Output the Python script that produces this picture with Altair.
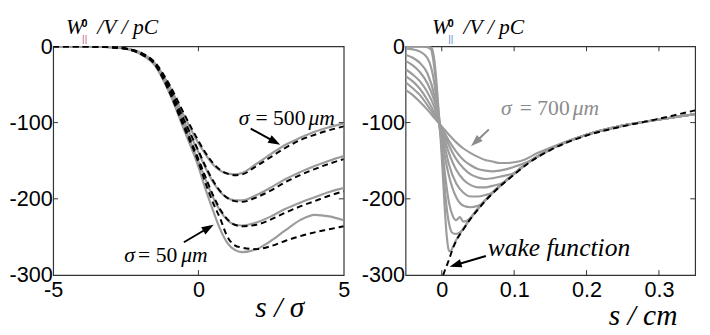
import math
import altair as alt
import pandas as pd

# ---------------- left panel (s / sigma) ----------------
L_X = [-5, -4, -3, -2.5, -2, -1.5, -1, -0.5, 0, 0.25, 0.5, 0.75, 1, 1.25, 1.5, 2, 2.5, 3, 3.5, 4, 4.5, 5]
L_D1 = [0, 0, -1, -3, -8, -21, -50, -88, -124, -140, -153, -162, -167, -169, -168, -157, -145, -133, -123, -116, -110, -105]
L_G1 = [0, 0, -1, -3, -8, -22, -52, -91, -127, -142, -155, -163, -167, -168, -166, -154, -141, -129, -120, -112, -106, -101]
L_D2 = [0, 0, -1, -3, -9, -22, -54, -96, -137, -158, -176, -190, -199, -203, -204, -198, -189, -178, -169, -161, -154, -148]
L_G2 = [0, 0, -1, -3, -9, -23, -55, -98, -139, -160, -178, -191, -199, -202, -202, -195, -185, -174, -165, -157, -150, -144]
L_D3 = [0, 0, -1, -3, -9, -23, -57, -102, -148, -172, -195, -214, -227, -234, -236, -234, -227, -218, -210, -203, -196, -190]
L_G3 = [0, 0, -1, -3, -9, -24, -58, -104, -151, -175, -198, -216, -228, -234, -235, -231, -223, -213, -205, -198, -191, -186]
L_D4 = [0, 0, -1, -3, -10, -24, -60, -106, -152, -180, -205, -226, -250, -261, -264, -266, -262, -255, -249, -244, -240, -236]
L_G4 = [0, 0, -1, -3, -10, -25, -61, -109, -158, -188, -215, -240, -258, -267, -270, -266, -255, -241, -228, -221, -223, -228]

# ---------------- right panel (s / cm) ----------------
W_X = [0.002, 0.005, 0.01, 0.015, 0.02, 0.03, 0.04, 0.05, 0.06, 0.07, 0.08, 0.09, 0.1, 0.12, 0.15, 0.2, 0.25, 0.3, 0.35]
W_Y = [-300, -292, -280, -266, -255, -240, -226, -214, -203, -193, -184, -176, -168, -153, -136, -117, -105, -95, -84]

G1_X = [-0.05, -0.04, -0.03, -0.02, -0.01, 0, 0.01, 0.02, 0.03, 0.04, 0.05, 0.06, 0.07, 0.08, 0.09, 0.1, 0.11, 0.12, 0.13, 0.15, 0.2, 0.25, 0.3, 0.35]
G1_Y = [-57, -64, -73, -83, -94, -105, -116, -126, -134, -140, -145, -149, -151, -153, -153, -152, -150, -146, -141, -133, -116, -104, -96, -89]
G2_X = [-0.05, -0.04, -0.03, -0.02, -0.01, 0, 0.01, 0.02, 0.03, 0.04, 0.05, 0.06, 0.07, 0.08, 0.09, 0.1, 0.12, 0.15, 0.2, 0.25, 0.3, 0.35]
G2_Y = [-47, -55, -64, -77, -91, -107, -124, -138, -149, -156, -161, -163, -164, -163, -161, -158, -151, -135, -116, -104, -96, -89]
G3_X = [-0.05, -0.04, -0.03, -0.02, -0.01, 0, 0.01, 0.02, 0.03, 0.04, 0.05, 0.06, 0.07, 0.08, 0.1, 0.12, 0.15, 0.2, 0.25, 0.3, 0.35]
G3_Y = [-39, -46, -56, -70, -87, -108, -130, -148, -160, -168, -172, -174, -173, -171, -166, -152, -135, -116, -104, -96, -89]
G4_X = [-0.05, -0.04, -0.03, -0.02, -0.01, 0, 0.01, 0.02, 0.03, 0.04, 0.05, 0.06, 0.07, 0.085, 0.1, 0.12, 0.15, 0.2, 0.25, 0.3, 0.35]
G4_Y = [-30, -37, -46, -60, -80, -110, -140, -162, -175, -182, -185, -185, -183, -179, -167, -152, -135, -116, -104, -96, -89]
G5_X = [-0.05, -0.04, -0.03, -0.02, -0.01, 0, 0.01, 0.02, 0.03, 0.04, 0.05, 0.06, 0.07, 0.08, 0.1, 0.12, 0.15, 0.2, 0.25, 0.3, 0.35]
G5_Y = [-19, -25, -34, -48, -72, -112, -155, -180, -192, -197, -197, -195, -192, -184, -167, -152, -135, -116, -104, -96, -89]
G6_X = [-0.05, -0.04, -0.03, -0.02, -0.01, -0.004, 0, 0.005, 0.01, 0.02, 0.03, 0.04, 0.05, 0.055, 0.06, 0.07, 0.08, 0.1, 0.12, 0.15, 0.2, 0.25, 0.3, 0.35]
G6_Y = [-11, -15, -22, -35, -65, -98, -120, -148, -170, -198, -209, -211, -209, -207, -202, -192, -183, -167, -152, -135, -116, -104, -96, -89]
G7_X = [-0.05, -0.04, -0.03, -0.02, -0.01, -0.004, 0, 0.005, 0.01, 0.015, 0.02, 0.025, 0.03, 0.04, 0.05, 0.06, 0.07, 0.08, 0.1, 0.12, 0.15, 0.2, 0.25, 0.3, 0.35]
G7_Y = [-3, -4, -7, -15, -50, -100, -128, -172, -205, -222, -228, -224, -230, -225, -213, -202, -192, -183, -167, -152, -135, -116, -104, -96, -89]
G8_X = [-0.05, -0.03, -0.02, -0.015, -0.01, -0.005, -0.002, 0.002, 0.006, 0.01, 0.015, 0.02, 0.025, 0.03, 0.04, 0.05, 0.06, 0.07, 0.08, 0.1, 0.12, 0.15, 0.2, 0.25, 0.3, 0.35]
G8_Y = [0, 0, -1, -4, -30, -80, -108, -160, -205, -232, -245, -246, -244, -239, -225, -213, -202, -192, -183, -167, -152, -135, -116, -104, -96, -89]
G9_X = [-0.05, -0.02, -0.014, -0.01, -0.007, -0.004, -0.002, 0.001, 0.004, 0.007, 0.01, 0.012, 0.015, 0.02, 0.03, 0.04, 0.05, 0.06, 0.07, 0.08, 0.1, 0.12, 0.15, 0.2, 0.25, 0.3, 0.35]
G9_Y = [0, 0, -2, -20, -50, -90, -115, -160, -210, -250, -268, -269, -264, -254, -239, -225, -213, -202, -192, -183, -167, -152, -135, -116, -104, -96, -89]

# ---------------- ticks / labels ----------------
L_XTICKS = [-5, 0, 5]
R_XTICKS = [0, 0.1, 0.2, 0.3]
Y_TICKS = [-300, -200, -100, 0]
Y_TITLE = ["W", "0", "||", "/V / pC"]
L_XTITLE = "s / σ"
R_XTITLE = "s / cm"
NOTE_500 = ["σ", "= 500", "μm"]
NOTE_50 = ["σ", "= 50", "μm"]
NOTE_700 = ["σ", "= 700", "μm"]
NOTE_WAKE = "wake function"

W_L, W_R, H = 296, 295, 233
L_DOM = [-5, 5]
R_DOM = [-0.05, 0.35]
Y_DOM = [-300, 0]
GRAY = "#9c9c9c"
FRAME = "#333333"


def long_df(pairs):
    rows = []
    for name, xs, ys in pairs:
        for a, b in zip(xs, ys):
            rows.append({"x": a, "y": b, "s": name})
    return pd.DataFrame(rows)


def axis_x(vals):
    return alt.Axis(values=vals, title=None, grid=False, ticks=False, domain=False,
                    labelFont="Liberation Sans", labelFontSize=22, labelColor="#000",
                    labelPadding=5, labelExpr="'' + datum.value", labelOverlap=False,
                    labelFlush=False)


def axis_y(vals):
    return alt.Axis(values=vals, title=None, grid=False, ticks=False, domain=False,
                    labelFont="Liberation Sans", labelFontSize=22, labelColor="#000",
                    labelPadding=1, labelExpr="'' + datum.value", labelOverlap=False,
                    labelFlush=False)


def panel(gray_pairs, dash_pairs, xdom, xticks, width, notes, arrows, ytitle_x, sub_color, xtitle, xtitle_pos):
    sx_scale = alt.Scale(domain=xdom, nice=False, zero=False)
    sy_scale = alt.Scale(domain=Y_DOM, nice=False, zero=False)
    X = alt.X("x:Q", scale=sx_scale, axis=axis_x(xticks))
    Y = alt.Y("y:Q", scale=sy_scale, axis=axis_y(Y_TICKS))
    sx = width / (xdom[1] - xdom[0])
    sy = H / (Y_DOM[1] - Y_DOM[0])

    layers = []
    layers.append(alt.Chart(long_df(gray_pairs)).mark_line(
        color=GRAY, strokeWidth=2.2, interpolate="monotone", clip=True
    ).encode(x=X, y=Y, detail="s:N"))
    layers.append(alt.Chart(long_df(dash_pairs)).mark_line(
        color="#000", strokeWidth=2, strokeDash=[6, 4], interpolate="monotone", clip=True
    ).encode(x=X, y=Y, detail="s:N"))

    # inward ticks
    tick_rows = []
    tx = 5 / sx
    ty = 5 / sy
    for v in xticks:
        if xdom[0] < v < xdom[1]:
            tick_rows.append({"x": v, "y": Y_DOM[0], "x2": v, "y2": Y_DOM[0] + ty})
            tick_rows.append({"x": v, "y": Y_DOM[1], "x2": v, "y2": Y_DOM[1] - ty})
    for v in Y_TICKS:
        if Y_DOM[0] < v < Y_DOM[1]:
            tick_rows.append({"x": xdom[0], "y": v, "x2": xdom[0] + tx, "y2": v})
            tick_rows.append({"x": xdom[1], "y": v, "x2": xdom[1] - tx, "y2": v})
    layers.append(alt.Chart(pd.DataFrame(tick_rows)).mark_rule(color=FRAME, strokeWidth=1).encode(
        x=X, y=Y, x2="x2:Q", y2="y2:Q"))

    # annotation texts
    for (pieces, x0, y0, offs, size, color) in notes:
        for txt, dx in zip(pieces, offs):
            style = "normal" if txt.startswith("=") else "italic"
            layers.append(alt.Chart(pd.DataFrame({"x": [x0], "y": [y0], "t": [txt]})).mark_text(
                align="left", baseline="alphabetic", dx=dx, font="Liberation Serif",
                fontSize=size, fontStyle=style, color=color
            ).encode(x=X, y=Y, text="t:N"))

    # arrows
    for (x0, y0, x1, y1, color) in arrows:
        px = (x1 - x0) * sx
        py = -(y1 - y0) * sy
        L = math.hypot(px, py)
        ux, uy = px / L, py / L
        back = 6
        hx = x1 - ux * back / sx
        hy = y1 + uy * back / sy
        ang = (math.degrees(math.atan2(uy, ux)) + 90) % 360
        layers.append(alt.Chart(pd.DataFrame({"x": [x0], "y": [y0], "x2": [hx], "y2": [hy]})).mark_rule(
            color=color, strokeWidth=2).encode(x=X, y=Y, x2="x2:Q", y2="y2:Q"))
        layers.append(alt.Chart(pd.DataFrame({"x": [hx], "y": [hy], "a": [ang]})).mark_point(
            shape="M0,-1L0.7,1L-0.7,1Z", filled=True, size=150, color=color, opacity=1, strokeWidth=0
        ).encode(x=X, y=Y, angle=alt.Angle("a:Q", scale=None)))

    # y title  W^0_|| / V / pC
    tx0 = ytitle_x
    specs = [
        (Y_TITLE[0], tx0, -13, "Liberation Serif", 22, "italic", "normal", "#000"),
        (Y_TITLE[1], tx0 + 16, -20, "Liberation Sans", 11, "normal", "bold", "#000"),
        (Y_TITLE[2], tx0 + 16.5, -4, "Liberation Sans", 10, "normal", "normal", sub_color),
        (Y_TITLE[3], tx0 + 32, -13, "Liberation Serif", 22, "italic", "normal", "#000"),
    ]
    for txt, xx, yy, font, size, style, weight, color in specs:
        layers.append(alt.Chart(pd.DataFrame({"t": [txt]})).mark_text(
            align="left", baseline="alphabetic", font=font, fontSize=size,
            fontStyle=style, fontWeight=weight, color=color
        ).encode(x=alt.value(xx), y=alt.value(yy), text="t:N"))

    # x title
    layers.append(alt.Chart(pd.DataFrame({"t": [xtitle]})).mark_text(
        align="left", baseline="alphabetic", font="Liberation Serif", fontSize=30,
        fontStyle="italic", color="#000"
    ).encode(x=alt.value(xtitle_pos[0]), y=alt.value(xtitle_pos[1]), text="t:N"))

    return alt.layer(*layers).properties(width=width, height=H)


left = panel(
    gray_pairs=[("g1", L_X, L_G1), ("g2", L_X, L_G2), ("g3", L_X, L_G3), ("g4", L_X, L_G4)],
    dash_pairs=[("d1", L_X, L_D1), ("d2", L_X, L_D2), ("d3", L_X, L_D3), ("d4", L_X, L_D4)],
    xdom=L_DOM, xticks=L_XTICKS, width=W_L,
    notes=[(NOTE_500, 1.39, -103, [0, 17, 71], 22, "#000"),
           (NOTE_50, -2.55, -283, [0, 14, 58], 22, "#000")],
    arrows=[(1.80, -108, 2.81, -129, "#000"), (-0.50, -257, 0.52, -234, "#000")],
    ytitle_x=13, sub_color="#c0607a", xtitle=L_XTITLE, xtitle_pos=(206, 276),
)

right = panel(
    gray_pairs=[("g1", G1_X, G1_Y), ("g2", G2_X, G2_Y), ("g3", G3_X, G3_Y), ("g4", G4_X, G4_Y),
                ("g5", G5_X, G5_Y), ("g6", G6_X, G6_Y), ("g7", G7_X, G7_Y), ("g8", G8_X, G8_Y),
                ("g9", G9_X, G9_Y)],
    dash_pairs=[("w", W_X, W_Y)],
    xdom=R_DOM, xticks=R_XTICKS, width=W_R,
    notes=[(NOTE_700, 0.082, -90, [0, 19, 73], 22, "#8c8c8c"),
           ([NOTE_WAKE], 0.0635, -275, [0], 26, "#000")],
    arrows=[(0.065, -109, 0.0405, -131, "#8c8c8c"), (0.061, -275, 0.011, -289, "#000")],
    ytitle_x=27, sub_color="#5a8ac8", xtitle=R_XTITLE, xtitle_pos=(207, 284),
)

chart = alt.hconcat(left, right, spacing=10).properties(
    padding={"left": 0, "top": 4, "right": 5, "bottom": 0}
).configure_view(stroke=FRAME, strokeWidth=1.2)

chart.save("out.html", embed_options={"renderer": "svg", "actions": False})
